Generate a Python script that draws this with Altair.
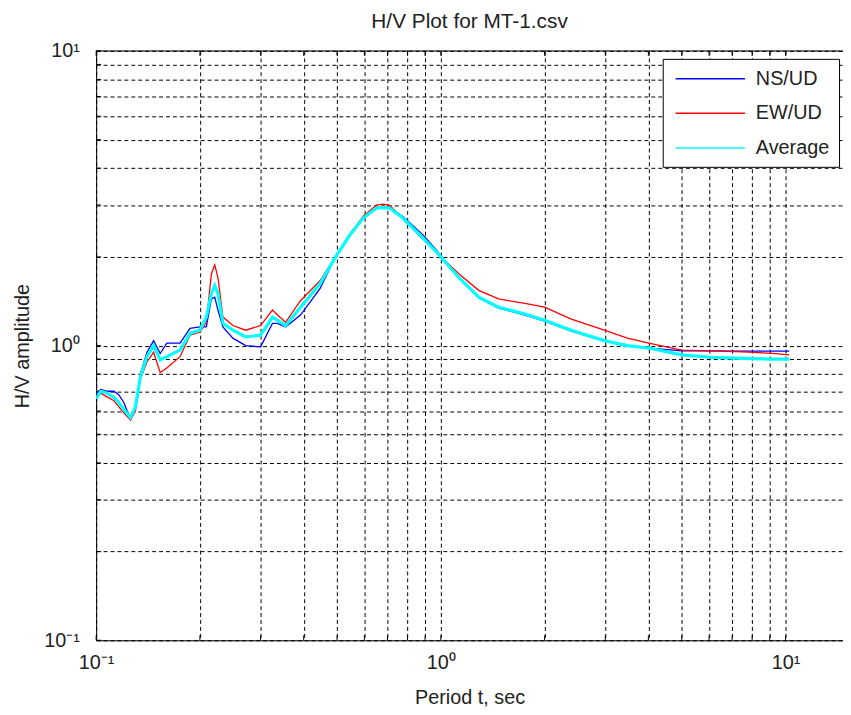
import altair as alt
import pandas as pd

# Period (s)
period = [0.100, 0.1031, 0.1076, 0.1126, 0.1164, 0.1204, 0.1258, 0.130, 0.1344, 0.1404,
          0.1468, 0.1534, 0.1603, 0.1751, 0.1872, 0.200, 0.2088, 0.2159, 0.2208, 0.2256,
          0.2332, 0.2492, 0.2716, 0.300, 0.3247, 0.3357, 0.3546, 0.3915, 0.4461, 0.4937,
          0.5451, 0.5957, 0.6505, 0.680, 0.7101, 0.7762, 0.886, 0.9674, 1.129, 1.288,
          1.471, 1.755, 2.0, 2.39, 2.98, 3.476, 4.04, 5.0, 6.04, 7.52, 9.18, 10.25]

ns_ud = [0.69, 0.71, 0.70, 0.70, 0.68, 0.64, 0.56, 0.61, 0.80, 0.95,
         1.04, 0.94, 1.02, 1.02, 1.145, 1.157, 1.157, 1.44, 1.46, 1.32,
         1.157, 1.06, 1.00, 0.99, 1.19, 1.19, 1.157, 1.27, 1.56, 1.99,
         2.36, 2.70, 2.92, 2.95, 2.94, 2.74, 2.38, 2.12, 1.69, 1.45,
         1.34, 1.27, 1.21, 1.12, 1.035, 1.00, 0.98, 0.96, 0.96, 0.958, 0.958, 0.958]

ew_ud = [0.66, 0.69, 0.67, 0.65, 0.62, 0.59, 0.56, 0.60, 0.77, 0.88,
         0.95, 0.81, 0.84, 0.917, 1.085, 1.11, 1.20, 1.75, 1.88, 1.70,
         1.25, 1.17, 1.128, 1.17, 1.32, 1.27, 1.20, 1.42, 1.66, 2.00,
         2.40, 2.75, 3.00, 3.02, 2.99, 2.70, 2.30, 2.08, 1.75, 1.54,
         1.44, 1.39, 1.35, 1.23, 1.128, 1.06, 1.017, 0.966, 0.96, 0.953, 0.941, 0.93]

average = [0.66, 0.70, 0.69, 0.667, 0.64, 0.607, 0.57, 0.62, 0.785, 0.917,
           1.00, 0.894, 0.917, 0.966, 1.10, 1.128, 1.25, 1.50, 1.60, 1.50,
           1.19, 1.128, 1.07, 1.085, 1.25, 1.22, 1.17, 1.35, 1.62, 1.99,
           2.38, 2.71, 2.93, 2.94, 2.93, 2.71, 2.32, 2.09, 1.70, 1.46,
           1.35, 1.28, 1.22, 1.128, 1.04, 1.00, 0.98, 0.93, 0.913, 0.905, 0.90, 0.90]

series_names = ["NS/UD", "EW/UD", "Average"]
series_colors = ["#0000ff", "#ff0000", "#00ffff"]
series_widths = [1.3, 1.3, 3.2]

grid_vals = [0.1, 0.2, 0.3, 0.4, 0.5, 0.6, 0.7, 0.8, 0.9,
             1, 2, 3, 4, 5, 6, 7, 8, 9, 10]

rows = []
for name, vals in zip(series_names, [ns_ud, ew_ud, average]):
    for p, v in zip(period, vals):
        rows.append({"period": p, "amp": v, "series": name})
df = pd.DataFrame(rows)

W, H = 754, 595
FONT = "Liberation Sans"

label_expr = ("datum.value == 0.1 ? '10\u207b\u00b9' : datum.value == 1 ? '10\u2070' : "
              "datum.value == 10 ? '10\u00b9' : ''")

xscale = alt.Scale(type="log", domain=[0.1, 14.68], nice=False)
yscale = alt.Scale(type="log", domain=[0.1, 10], nice=False)

xaxis = alt.Axis(values=grid_vals, labelExpr=label_expr, grid=True, gridDash=[4, 3],
                 gridColor="#000000", gridOpacity=1, gridWidth=1, ticks=False,
                 domainColor="#000000", domainWidth=1, labelFontSize=20, labelFont=FONT,
                 labelColor="#222222", labelPadding=12, labelFlush=False, labelOverlap=False,
                 title="Period t, sec", titleFontSize=20, titleFont=FONT,
                 titleFontWeight="normal", titleColor="#222222", titlePadding=16)
yaxis = alt.Axis(values=grid_vals, labelExpr=label_expr, grid=True, gridDash=[4, 3],
                 gridColor="#000000", gridOpacity=1, gridWidth=1, ticks=False,
                 domainColor="#000000", domainWidth=1, labelFontSize=20, labelFont=FONT,
                 labelColor="#222222", labelPadding=17, labelFlush=False, labelOverlap=False,
                 title="H/V amplitude", titleFontSize=20, titleFont=FONT,
                 titleFontWeight="normal", titleColor="#222222", titlePadding=11)

legend = alt.Legend(title=None, orient="none", legendX=572, legendY=8,
                    fillColor="#ffffff", strokeColor="#000000",
                    padding=9, rowPadding=14, symbolType="M-3.5,0H3.5",
                    symbolSize=400, symbolStrokeWidth=1.5, symbolOffset=28,
                    labelFontSize=20, labelFont=FONT, labelColor="#222222",
                    labelOffset=35)

color_scale = alt.Scale(domain=series_names, range=series_colors)

layers = []
for name, sw in zip(series_names, series_widths):
    layers.append(
        alt.Chart(df).transform_filter(alt.datum.series == name)
        .mark_line(clip=True, strokeWidth=sw)
        .encode(
            x=alt.X("period:Q", scale=xscale, axis=xaxis),
            y=alt.Y("amp:Q", scale=yscale, axis=yaxis),
            color=alt.Color("series:N", sort=series_names, scale=color_scale, legend=legend),
        )
    )

# top border of the box
top_border = alt.Chart(pd.DataFrame({"y": [10]})).mark_rule(color="#000000", strokeWidth=1).encode(
    y=alt.Y("y:Q", scale=yscale)
)

ticks_df = pd.DataFrame({"v": grid_vals})
xticks_bottom = alt.Chart(ticks_df).mark_rule(color="#000000").encode(
    x=alt.X("v:Q", scale=xscale), y=alt.value(H), y2=alt.value(H - 5))
xticks_top = alt.Chart(ticks_df).mark_rule(color="#000000").encode(
    x=alt.X("v:Q", scale=xscale), y=alt.value(0), y2=alt.value(5))
yticks_left = alt.Chart(ticks_df).mark_rule(color="#000000").encode(
    y=alt.Y("v:Q", scale=yscale), x=alt.value(0), x2=alt.value(5))

chart = alt.layer(xticks_bottom, xticks_top, yticks_left, *layers, top_border).properties(
    width=W, height=H,
    title=alt.Title("H/V Plot for MT-1.csv", fontSize=21, font=FONT, fontWeight="normal",
                    color="#222222", offset=9),
    autosize=alt.AutoSizeParams(type="none"),
    padding={"left": 89, "top": 40, "right": 0, "bottom": 64},
).configure_view(stroke=None).configure(background="#ffffff")

chart.save("out.html", embed_options={"renderer": "svg", "actions": False})
